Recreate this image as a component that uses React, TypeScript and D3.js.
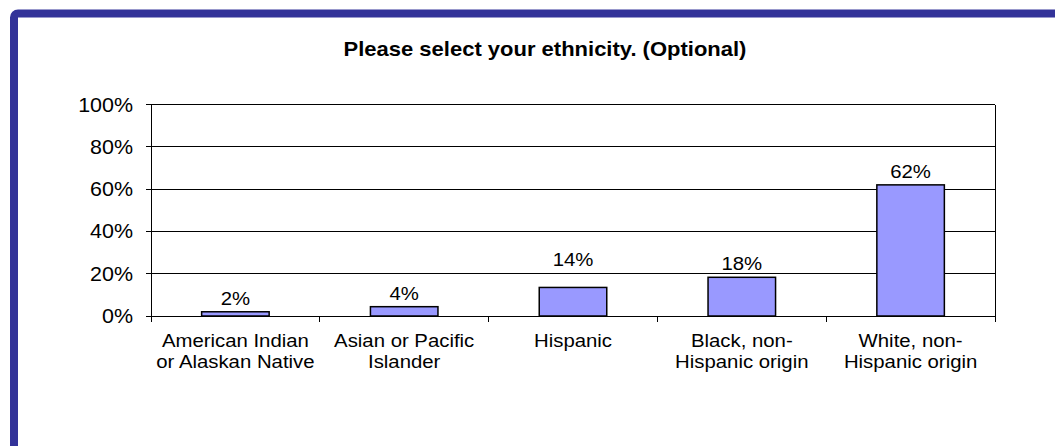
import React from "react";
import * as d3 from "d3";

const categories: string[][] = [
  ["American Indian", "or Alaskan Native"],
  ["Asian or Pacific", "Islander"],
  ["Hispanic"],
  ["Black, non-", "Hispanic origin"],
  ["White, non-", "Hispanic origin"],
];
const values: number[] = [2, 4.4, 13.5, 18.3, 62];
const valueLabels: string[] = ["2%", "4%", "14%", "18%", "62%"];
const yTicks: number[] = [0, 20, 40, 60, 80, 100];
const title = "Please select your ethnicity. (Optional)";

const W = 1055;
const H = 446;
const left = 151;
const right = 995;
const top = 104.5;
const bottom = 316;
const FONT = "'Liberation Sans', Arial, Helvetica, sans-serif";
const SX = 1.1;
const FS = 18.5;

export default function App() {
  const ids = categories.map((_, i) => String(i));
  const x = d3.scaleBand<string>().domain(ids).range([left, right]).paddingInner(0.6).paddingOuter(0.3);
  const y = d3.scaleLinear().domain([0, 100]).range([bottom, top]);
  const step = x.step();
  const boundaries = d3.range(categories.length + 1).map((i) => left + i * step);

  const labelBaseline = (v: number) => {
    let b = y(v) - 7;
    for (const t of yTicks) {
      const gy = y(t);
      if (gy >= b - 14 && gy <= b + 3 && gy < y(v)) {
        b = gy - 8;
      }
    }
    return b;
  };

  const T = (tx: number, ty: number, text: string, anchor: string, bold = false, key?: any, fs = FS) => (
    <g key={key} transform={`translate(${tx},${ty}) scale(${SX},1)`}>
      <text
        textAnchor={anchor}
        fontFamily={FONT}
        fontSize={fs}
        fontWeight={bold ? "bold" : "normal"}
        fill="#000"
      >
        {text}
      </text>
    </g>
  );

  return (
    <svg width={W} height={H} style={{ position: "absolute", left: 0, top: 0, background: "#fff" }}>
      <rect x={0} y={0} width={W} height={H} fill="#fff" />
      <rect x={14} y={13.5} width={W + 100} height={H + 100} rx={4} fill="none" stroke="#333399" strokeWidth={8} />
      {T(545, 56, title, "middle", true, "title", 20)}
      {yTicks.map((t) => (
        <line key={"g" + t} x1={left - 5} x2={right} y1={y(t)} y2={y(t)} stroke="#000" strokeWidth={1} shapeRendering="crispEdges" />
      ))}
      <line x1={right} x2={right} y1={top} y2={bottom + 5} stroke="#000" shapeRendering="crispEdges" />
      <line x1={left} x2={left} y1={top} y2={bottom + 6} stroke="#000" shapeRendering="crispEdges" />
      {boundaries.map((bx, i) => (
        <line key={"xt" + i} x1={bx} x2={bx} y1={bottom} y2={bottom + 6} stroke="#000" shapeRendering="crispEdges" />
      ))}
      {yTicks.map((t) => T(133, y(t) + 7, `${t}%`, "end", false, "yl" + t, 19.5))}
      {values.map((v, i) => (
        <rect
          key={"b" + i}
          x={x(ids[i])!}
          y={y(v)}
          width={x.bandwidth()}
          height={y(0) - y(v)}
          fill="#9999FF"
          stroke="#000"
          strokeWidth={1.5}
        />
      ))}
      {values.map((v, i) => T(x(ids[i])! + x.bandwidth() / 2, labelBaseline(v), valueLabels[i], "middle", false, "vl" + i))}
      {categories.map((lines, i) =>
        lines.map((ln, j) => T(x(ids[i])! + x.bandwidth() / 2, 347 + j * 21, ln, "middle", false, `c${i}-${j}`))
      )}
    </svg>
  );
}
